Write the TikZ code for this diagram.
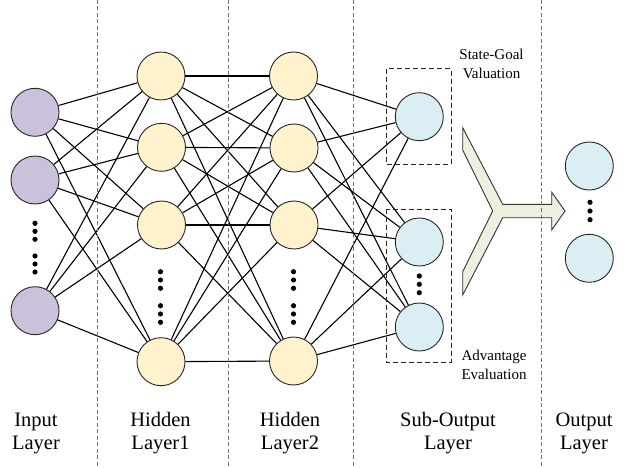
\documentclass[tikz,border=0pt]{standalone}
\usepackage{fontspec}
\setmainfont{Liberation Serif}
\definecolor{inpfill}{HTML}{CCC1DA}
\definecolor{hidfill}{HTML}{FFF2CC}
\definecolor{outfill}{HTML}{DAEEF3}
\definecolor{arrfill}{HTML}{EBF1DE}
\begin{document}
\begin{tikzpicture}[x=1pt,y=-1pt,
  neuron/.style={circle,draw=black!85,line width=0.9pt,minimum size=48pt,inner sep=0pt},
  inp/.style={neuron,fill=inpfill},
  hid/.style={neuron,fill=hidfill},
  outn/.style={neuron,fill=outfill},
  conn/.style={line width=1.1pt,black},
  sep/.style={draw=black!55,dash pattern=on 4pt off 2.5pt,line width=0.8pt},
  box/.style={draw=black!85,dash pattern=on 5pt off 3pt,line width=1pt},
  lbl/.style={font=\fontsize{20.5}{23}\selectfont,align=center},
  slbl/.style={font=\fontsize{15}{18.5}\selectfont,align=center}]
\useasboundingbox (0,0) rectangle (624,468);

% input layer
\node[inp] (i1) at (35,112.3) {};
\node[inp] (i2) at (35,180) {};
\node[inp] (i3) at (35,310.7) {};
% hidden 1
\node[hid] (a1) at (161,76) {};
\node[hid] (a2) at (161.5,147.3) {};
\node[hid] (a3) at (161.5,225) {};
\node[hid] (a4) at (161,361.7) {};
% hidden 2
\node[hid] (b1) at (293.5,76) {};
\node[hid] (b2) at (294,148) {};
\node[hid] (b3) at (294,225) {};
\node[hid] (b4) at (293.5,361) {};
% sub-output
\node[outn] (s1) at (419.3,116.7) {};
\node[outn] (s2) at (419.3,242) {};
\node[outn] (s3) at (419.3,327) {};
% output
\node[outn] (o1) at (589.3,166) {};
\node[outn] (o2) at (589.3,258.3) {};

% connections
\foreach \p in {i1,i2,i3}{\foreach \q in {a1,a2,a3,a4}{\draw[conn] (\p) -- (\q);}}
\foreach \p in {a1,a2,a3,a4}{\foreach \q in {b1,b2,b3,b4}{\draw[conn] (\p) -- (\q);}}
\foreach \p in {b1,b2,b3,b4}{\foreach \q in {s1,s2,s3}{\draw[conn] (\p) -- (\q);}}

% dots
\foreach \y in {223.3,231.3,239.3,256,264,272}{\fill (35,\y) circle (2.6);}
\foreach \y in {271.7,280,288.3,305.7,314,322.3}{\fill (160.5,\y) circle (2.6);}
\foreach \y in {271.7,280,288.3,305.7,314,322.3}{\fill (293.5,\y) circle (2.6);}
\foreach \y in {276,284.3,292.7}{\fill (419.3,\y) circle (2.6);}
\foreach \y in {202.3,211,219.7}{\fill (590,\y) circle (2.6);}

% dashed boxes
\draw[box] (386.7,69) rectangle (451,164.3);
\draw[box] (386.7,209) rectangle (451,362.3);

% box labels
\node[slbl] (sg) at (491.5,64) {State-Goal\\Valuation};
\node[slbl] (ae) at (494,365) {Advantage\\Evaluation};

% merge arrow
\draw[fill=arrfill,draw=black!80,line width=0.9pt,line join=miter]
  (462.7,127.7) -- (502.7,204.3) -- (551.7,204.3) -- (551.7,192.3) -- (565,211)
  -- (551.7,230) -- (551.7,217.7) -- (502.7,217.7) -- (462.7,295) -- (462.7,271.7)
  -- (492.7,211) -- (462.7,150) -- cycle;

% separators
\foreach \x in {97.3,228.3,353.3,541.7}{\draw[sep] (\x,0) -- (\x,468);}

% bottom labels
\node[lbl] (li) at (36,433) {Input\\Layer};
\node[lbl] (lh1) at (160.5,433) {Hidden\\Layer1};
\node[lbl] (lh2) at (290,433) {Hidden\\Layer2};
\node[lbl] (ls) at (448,433) {Sub-Output\\Layer};
\node[lbl] (lo) at (584,433) {Output\\Layer};
\end{tikzpicture}
\end{document}
